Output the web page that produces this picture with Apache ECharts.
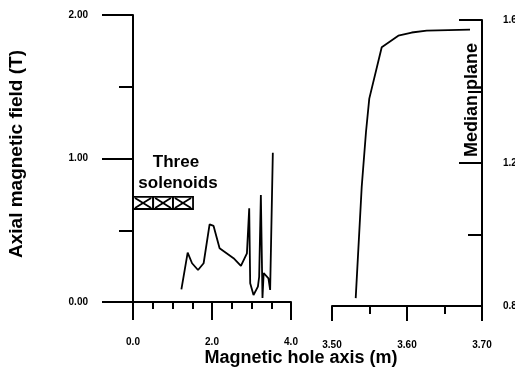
<!DOCTYPE html>
<html lang="en">
<head>
<meta charset="UTF-8">
<title>Axial magnetic field along the magnetic hole axis</title>
<style>
    html, body { margin: 0; padding: 0; background: #fff; }
    #main { width: 515px; height: 375px; }
</style>
<script src="https://cdn.jsdelivr.net/npm/echarts@6/dist/echarts.min.js"></script>
</head>
<body>
<div id="main"></div>
<script>
// left panel: field along the whole hole axis (m, T)
var holeX = [1.225, 1.384, 1.495, 1.646, 1.788, 1.939, 2.040, 2.192, 2.545, 2.732, 2.884, 2.942, 2.967, 3.051, 3.162, 3.194, 3.237, 3.278, 3.308, 3.429, 3.472, 3.540];
var holeB = [0.088, 0.344, 0.270, 0.223, 0.270, 0.541, 0.530, 0.374, 0.305, 0.251, 0.339, 0.653, 0.130, 0.049, 0.107, 0.176, 0.746, 0.028, 0.202, 0.165, 0.084, 1.040];
// right panel: exit end, median plane (m, T)
var edgeX = [3.5316, 3.5396, 3.5453, 3.5497, 3.5663, 3.5884, 3.6063, 3.6263, 3.684];
var edgeB = [0.822, 1.133, 1.286, 1.380, 1.524, 1.556, 1.565, 1.570, 1.573];
// the three solenoids drawn as a crossed bar
var solenoidCells = [[0, 0.51], [0.51, 1.01], [1.01, 1.52]];
var solenoidBand = [0.648, 0.732];

var font = "'Liberation Sans', Arial, sans-serif";
var ink = '#000';

function pairs(xs, ys) {
    var out = [];
    for (var i = 0; i < xs.length; i++) out.push([xs[i], ys[i]]);
    return out;
}

var chart = echarts.init(document.getElementById('main'));

var tickLabel = { color: ink, fontFamily: font, fontWeight: 'bold', fontSize: 10 };

var option = {
    backgroundColor: '#fff',
    animation: false,
    grid: [
        { left: 133, top: 15, width: 158, height: 287, outerBoundsMode: 'none' },
        { left: 332, top: 20, width: 150, height: 286, outerBoundsMode: 'none' }
    ],
    xAxis: [{
        gridIndex: 0, type: 'value', min: 0, max: 4, interval: 2,
        axisLine: { lineStyle: { color: ink, width: 2 } },
        axisTick: { length: 18, lineStyle: { color: ink, width: 2 } },
        minorTick: { show: true, splitNumber: 4, length: 7, lineStyle: { color: ink, width: 2 } },
        splitLine: { show: false },
        axisLabel: Object.assign({ margin: 35, formatter: function (v) { return v.toFixed(1); } }, tickLabel)
    }, {
        gridIndex: 1, type: 'value', min: 3.5, max: 3.7, interval: 0.1,
        axisLine: { lineStyle: { color: ink, width: 2 } },
        axisTick: { length: 15, lineStyle: { color: ink, width: 2 } },
        minorTick: { show: true, splitNumber: 2, length: 8, lineStyle: { color: ink, width: 2 } },
        splitLine: { show: false },
        axisLabel: Object.assign({ margin: 34, formatter: function (v) { return v.toFixed(2); } }, tickLabel)
    }],
    yAxis: [{
        gridIndex: 0, type: 'value', min: 0, max: 2, interval: 1,
        axisLine: { show: true, lineStyle: { color: ink, width: 2 } },
        axisTick: { show: true, length: 31, lineStyle: { color: ink, width: 2 } },
        minorTick: { show: true, splitNumber: 2, length: 14, lineStyle: { color: ink, width: 2 } },
        splitLine: { show: false },
        axisLabel: Object.assign({ margin: 45, formatter: function (v) { return v.toFixed(2); } }, tickLabel)
    }, {
        gridIndex: 1, type: 'value', position: 'right', min: 0.8, max: 1.6, interval: 0.4,
        axisLine: { show: true, lineStyle: { color: ink, width: 2 } },
        axisTick: { show: true, inside: true, length: 23, lineStyle: { color: ink, width: 2 } },
        minorTick: { show: true, splitNumber: 2, length: 14, lineStyle: { color: ink, width: 2 } },
        splitLine: { show: false },
        axisLabel: Object.assign({ margin: 21, formatter: function (v) { return v.toFixed(1); } }, tickLabel)
    }],
    series: [{
        type: 'line', xAxisIndex: 0, yAxisIndex: 0,
        data: pairs(holeX, holeB),
        showSymbol: false, silent: true,
        lineStyle: { color: ink, width: 1.8 }
    }, {
        type: 'line', xAxisIndex: 1, yAxisIndex: 1,
        data: pairs(edgeX, edgeB),
        showSymbol: false, silent: true,
        lineStyle: { color: ink, width: 1.8 }
    }, {
        type: 'custom', xAxisIndex: 0, yAxisIndex: 0,
        data: solenoidCells,
        silent: true,
        renderItem: function (params, api) {
            var a = api.coord([api.value(0), solenoidBand[1]]);
            var b = api.coord([api.value(1), solenoidBand[0]]);
            var st = { stroke: ink, lineWidth: 1.8, fill: 'none' };
            return {
                type: 'group',
                children: [
                    { type: 'rect', shape: { x: a[0], y: a[1], width: b[0] - a[0], height: b[1] - a[1] }, style: st },
                    { type: 'line', shape: { x1: a[0] + 2, y1: a[1] + 1, x2: b[0] - 2, y2: b[1] - 1 }, style: st },
                    { type: 'line', shape: { x1: a[0] + 2, y1: b[1] - 1, x2: b[0] - 2, y2: a[1] + 1 }, style: st }
                ]
            };
        }
    }],
    graphic: [
        { type: 'text', x: 176, y: 162, style: { text: 'Three', fill: ink, font: 'bold 17px ' + font, align: 'center', verticalAlign: 'middle' } },
        { type: 'text', x: 178, y: 183, style: { text: 'solenoids', fill: ink, font: 'bold 17px ' + font, align: 'center', verticalAlign: 'middle' } },
        { type: 'text', x: 472, y: 100, rotation: Math.PI / 2, style: { text: 'Median plane', fill: ink, font: 'bold 18px ' + font, align: 'center', verticalAlign: 'middle' } },
        { type: 'text', x: 301, y: 358, style: { text: 'Magnetic hole axis (m)', fill: ink, font: 'bold 18px ' + font, align: 'center', verticalAlign: 'middle' } },
        { type: 'text', x: 17, y: 154, rotation: Math.PI / 2, style: { text: 'Axial magnetic field (T)', fill: ink, font: 'bold 19px ' + font, align: 'center', verticalAlign: 'middle' } }
    ]
};

chart.setOption(option);
</script>
</body>
</html>
